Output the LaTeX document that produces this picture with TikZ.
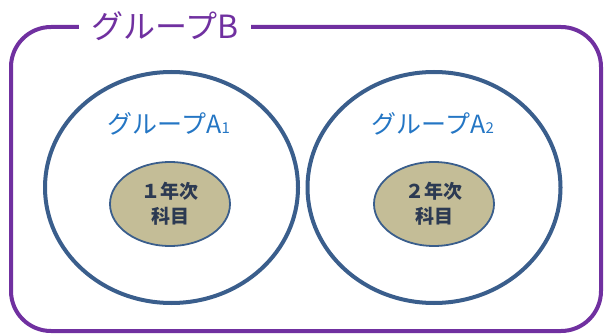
\documentclass[tikz,border=0pt]{standalone}
\usepackage{fontspec}
\setmainfont{Noto Sans CJK JP}
\usetikzlibrary{shapes.geometric}
\definecolor{grpB}{RGB}{112,48,160}
\definecolor{ringblue}{RGB}{58,94,140}
\definecolor{lblblue}{RGB}{36,118,196}
\definecolor{tanfill}{RGB}{196,189,151}
\definecolor{darktext}{RGB}{44,58,82}
\tikzset{
  frame/.style={draw=grpB, line width=4pt, rounded corners=40pt},
  ring/.style={draw=ringblue, line width=4pt, ellipse, minimum width=253pt, minimum height=231pt, inner sep=0pt},
  subj/.style={draw=ringblue, fill=tanfill, line width=1.8pt, ellipse, minimum width=120pt, minimum height=84pt, inner sep=0pt},
  subjtext/.style={text=darktext, font=\fontsize{19}{25}\selectfont\bfseries, align=center},
  grouplabel/.style={text=lblblue, font=\fontsize{25}{25}\selectfont},
  titlelabel/.style={text=grpB, fill=white, inner xsep=12pt, inner ysep=2pt, font=\fontsize{32}{32}\selectfont}
}
\begin{document}
\begin{tikzpicture}[x=1pt,y=-1pt]
\useasboundingbox (0,0) rectangle (605,334);
\draw[frame] (11,27) rectangle (601,331);
\node[titlelabel] (title) at (165,26) {グループB};
\node[ring] (ringA1) at (171.5,187.5) {};
\node[ring] (ringA2) at (434,187.5) {};
\node[grouplabel] (lblA1) at (169,124) {グループA{\fontsize{15}{15}\selectfont 1}};
\node[grouplabel] (lblA2) at (433,124) {グループA{\fontsize{15}{15}\selectfont 2}};
\node[subj] (subj1) at (170,204) {};
\node[subj] (subj2) at (434,204) {};
\node[subjtext] (subj1text) at (subj1) {１年次\\科目};
\node[subjtext] (subj2text) at (subj2) {２年次\\科目};
\end{tikzpicture}
\end{document}
